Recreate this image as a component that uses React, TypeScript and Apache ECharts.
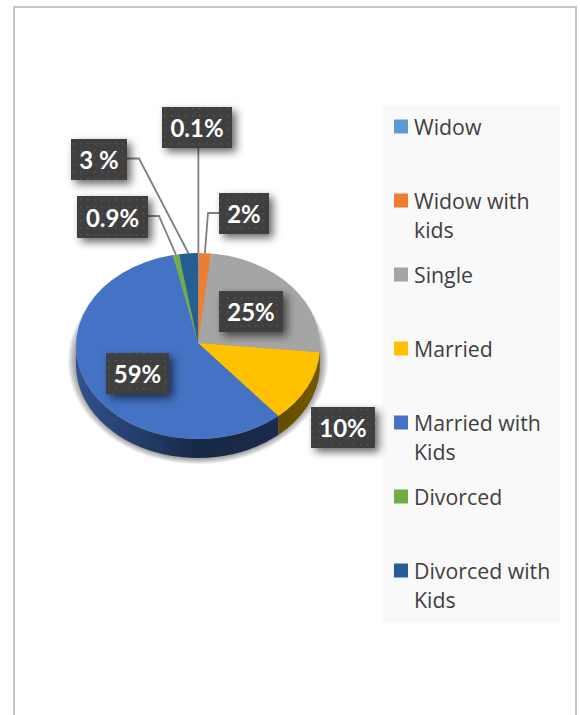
import React, { useEffect, useRef } from "react";
import * as echarts from "echarts";

const categories = ["Widow", "Widow with kids", "Single", "Married", "Married with Kids", "Divorced", "Divorced with Kids"];
const legendTexts = ["Widow", "Widow with\nkids", "Single", "Married", "Married with\nKids", "Divorced", "Divorced with\nKids"];
const sliceValues = [0.1, 1.6, 24.4, 12.5, 58.2, 0.8, 2.5];
const labelTexts = ["0.1%", "2%", "25%", "10%", "59%", "0.9%", "3 %"];
const sliceColors = ["#5b9bd5", "#ed7d31", "#a5a5a5", "#ffc000", "#4472c4", "#70ad47", "#255e91"];

const PIE = { cx: 198, cy: 346, apexY: 343, rx: 122, ry: 93, depth: 19 };
const labelBoxes = [
  { x: 162, y: 107, w: 70, h: 41, elbow: null as number[] | null },
  { x: 219, y: 193, w: 50, h: 41, elbow: [208, 213] },
  { x: 219, y: 291, w: 64, h: 41, elbow: null },
  { x: 311, y: 407, w: 64, h: 41, elbow: null },
  { x: 106, y: 353, w: 63, h: 41, elbow: null },
  { x: 77, y: 196, w: 71, h: 42, elbow: [159, 216] },
  { x: 71, y: 139, w: 56, h: 41, elbow: [139, 158.5] },
];
const leaderFlags = [true, true, false, false, false, true, true];
const LEGEND = { left: 394, top: 120, pitch: 74 };
const SHADOW = { cx: 198, cy: 361, rx: 130, ry: 103 };

const total = sliceValues.reduce((a, b) => a + b, 0);
const startAngles = sliceValues.map((_, i) => (sliceValues.slice(0, i).reduce((a, b) => a + b, 0) / total) * 360);
const endAngles = startAngles.map((s, i) => s + (sliceValues[i] / total) * 360);

function pt(deg: number, dy = 0): [number, number] {
  const r = (deg * Math.PI) / 180;
  return [PIE.cx + PIE.rx * Math.sin(r), PIE.cy + dy - PIE.ry * Math.cos(r)];
}
function shade(hex: string, f: number) {
  const n = parseInt(hex.slice(1), 16);
  const c = [(n >> 16) & 255, (n >> 8) & 255, n & 255].map((v) => Math.round(v * f));
  return `rgb(${c[0]},${c[1]},${c[2]})`;
}
function wedgePath(a: number, b: number) {
  const p = pt(a), q = pt(b);
  return `M${PIE.cx} ${PIE.apexY}L${p[0]} ${p[1]}A${PIE.rx} ${PIE.ry} 0 ${b - a > 180 ? 1 : 0} 1 ${q[0]} ${q[1]}Z`;
}
function wallPath(a: number, b: number) {
  const s = Math.max(a, 90), e = Math.min(b, 270);
  if (e <= s) return null;
  const p = pt(s), q = pt(e), q2 = pt(e, PIE.depth), p2 = pt(s, PIE.depth);
  const l = e - s > 180 ? 1 : 0;
  return `M${p[0]} ${p[1]}A${PIE.rx} ${PIE.ry} 0 ${l} 1 ${q[0]} ${q[1]}L${q2[0]} ${q2[1]}A${PIE.rx} ${PIE.ry} 0 ${l} 0 ${p2[0]} ${p2[1]}Z`;
}
function shadowPath(k: number) {
  const { cx, cy, rx, ry } = SHADOW;
  const a = rx * k, b = ry * k;
  return `M${cx - a} ${cy}A${a} ${b} 0 1 1 ${cx + a} ${cy}A${a} ${b} 0 1 1 ${cx - a} ${cy}Z`;
}
const shadowRings = [1, 0.99, 0.98, 0.97, 0.96, 0.95, 0.94];
function dotPattern() {
  const c = document.createElement("canvas");
  c.width = 7;
  c.height = 7;
  const g = c.getContext("2d")!;
  g.fillStyle = "#3f3f3f";
  g.fillRect(0, 0, 7, 7);
  g.fillStyle = "#575757";
  g.fillRect(3, 3, 1.5, 1.5);
  return { image: c.toDataURL(), repeat: "repeat", imageWidth: 7, imageHeight: 7 };
}

export default function App() {
  const ref = useRef<HTMLDivElement>(null);
  useEffect(() => {
    document.body.style.margin = "0";
    const chart = echarts.init(ref.current!, undefined, { renderer: "svg" });
    const pattern = dotPattern();

    const shadowSeries = {
      type: "custom",
      name: "shadow",
      coordinateSystem: "none",
      silent: true,
      z: 2,
      data: [1],
      renderItem: () => ({
        type: "group",
        children: shadowRings.map((k) => ({
          type: "path",
          shape: { pathData: shadowPath(k) },
          style: { fill: "rgba(0,0,0,0.07)" },
        })),
      }),
    };

    const sliceSeries = categories.map((name, i) => ({
      type: "custom",
      name,
      coordinateSystem: "none",
      silent: true,
      z: 2,
      itemStyle: { color: sliceColors[i] },
      data: [sliceValues[i]],
      renderItem: () => {
        const children: any[] = [];
        const wall = wallPath(startAngles[i], endAngles[i]);
        if (wall) {
          const c = sliceColors[i];
          children.push({
            type: "path",
            shape: { pathData: wall },
            style: {
              fill: {
                type: "linear", global: true,
                x: PIE.cx - PIE.rx, y: 0, x2: PIE.cx + PIE.rx, y2: 0,
                colorStops: [
                  { offset: 0, color: shade(c, 0.72) },
                  { offset: 0.5, color: shade(c, 0.36) },
                  { offset: 0.8, color: shade(c, 0.38) },
                  { offset: 1, color: shade(c, 0.46) },
                ],
              },
            },
          });
        }
        children.push({
          type: "path",
          shape: { pathData: wedgePath(startAngles[i], endAngles[i]) },
          style: { fill: sliceColors[i] },
        });
        return { type: "group", children };
      },
    }));

    const labelSeries = {
      type: "custom",
      name: "labels",
      coordinateSystem: "none",
      silent: true,
      z: 3,
      data: labelTexts.map((_, i) => i),
      renderItem: (params: any) => {
        const i = params.dataIndex;
        const b = labelBoxes[i];
        const children: any[] = [];
        if (leaderFlags[i]) {
          const mid = pt((startAngles[i] + endAngles[i]) / 2);
          const pts: number[][] = b.elbow
            ? [[b.x < PIE.cx ? b.x + b.w : b.x, b.elbow[1]], b.elbow, mid]
            : [[mid[0], b.y + b.h], mid];
          children.push({
            type: "polyline",
            shape: { points: pts },
            style: { fill: "none", stroke: "#7f7f7f", lineWidth: 1.8 },
          });
        }
        children.push({
          type: "rect",
          shape: { x: b.x, y: b.y, width: b.w, height: b.h },
          style: { fill: "#3f3f3f", shadowBlur: 8, shadowOffsetX: 4, shadowOffsetY: 4, shadowColor: "rgba(0,0,0,0.6)" },
        });
        children.push({
          type: "rect",
          shape: { x: b.x, y: b.y, width: b.w, height: b.h },
          style: { fill: pattern },
        });
        children.push({
          type: "text",
          style: {
            text: labelTexts[i],
            x: b.x + b.w / 2,
            y: b.y + b.h / 2,
            align: "center",
            verticalAlign: "middle",
            fill: "#ffffff",
            font: "bold 24px Lato",
          },
        });
        return { type: "group", children };
      },
    };

    const legends = categories.map((name, i) => {
      const two = legendTexts[i].includes("\n");
      return {
        show: true,
        data: [name],
        orient: "vertical",
        left: LEGEND.left,
        top: LEGEND.top + i * LEGEND.pitch - 8,
        padding: 0,
        itemWidth: 14,
        itemHeight: two ? 43 : 14,
        icon: two ? "path://M0 0H14V14H0ZM0 43L14 43" : "rect",
        itemGap: 0,
        selectedMode: false,
        formatter: () => legendTexts[i],
        textStyle: { fontFamily: "Open Sans", fontSize: 21.3, color: "#404040", lineHeight: 29, padding: [0, 0, 0, 1] },
      };
    });

    chart.setOption({
      animation: false,
      backgroundColor: "#ffffff",
      graphic: [
        { type: "rect", z: -1, silent: true, shape: { x: 382, y: 105, width: 178, height: 518 }, style: { fill: "#f9f9f9" } },
        { type: "polyline", z: -1, silent: true, shape: { points: [[14, 715], [14, 7], [576, 7], [576, 715]] }, style: { fill: "none", stroke: "#c6c6c6", lineWidth: 2 } },
      ],
      legend: legends,
      series: [shadowSeries, ...sliceSeries, labelSeries],
    } as any);
    return () => chart.dispose();
  }, []);
  return <div ref={ref} style={{ width: 580, height: 715 }} />;
}
